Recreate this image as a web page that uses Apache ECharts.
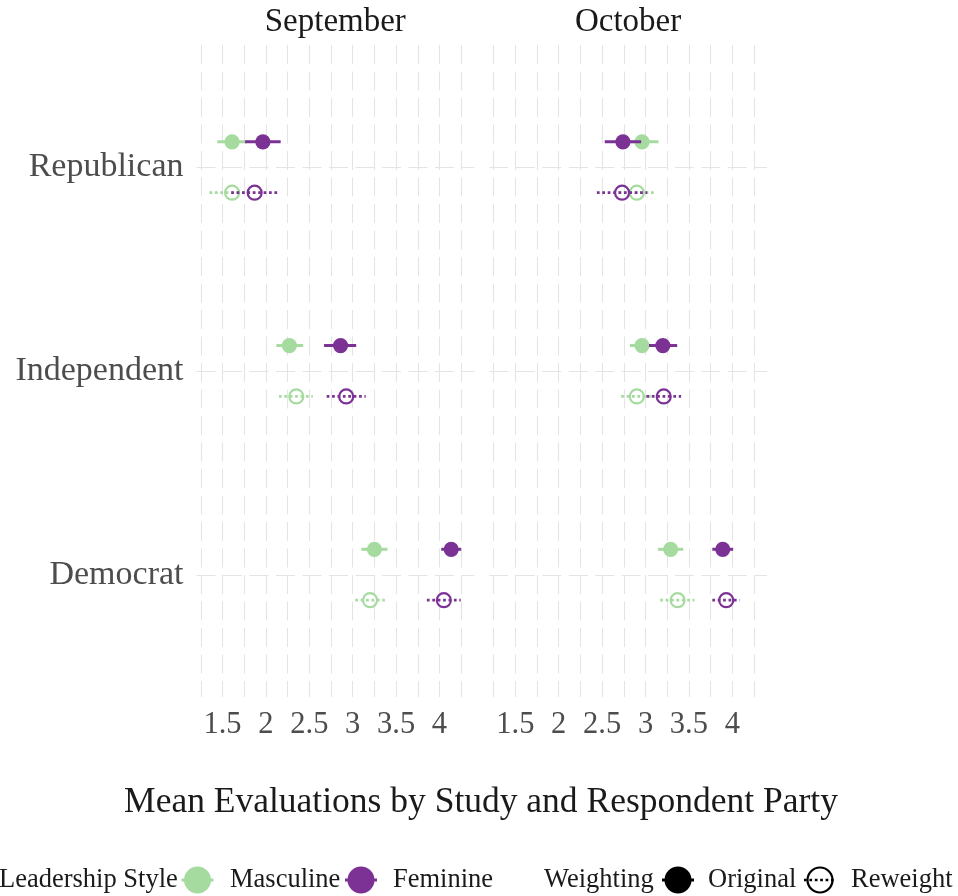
<!DOCTYPE html>
<html>
<head>
<meta charset="utf-8">
<script src="https://cdn.jsdelivr.net/npm/echarts@6/dist/echarts.min.js"></script>
<style>
  html, body { margin: 0; padding: 0; background: #ffffff; }
  #chart { width: 958px; height: 896px; }
</style>
</head>
<body>
<div id="chart"></div>
<script>
// Parties, bottom to top on the y axis
const parties = ["Democrat", "Independent", "Republican"];
const panels = ["September", "October"];
const xTickLabels = [1.5, 2, 2.5, 3, 3.5, 4];
const xGridValues = [1.25, 1.5, 1.75, 2, 2.25, 2.5, 2.75, 3, 3.25, 3.5, 3.75, 4, 4.25];

// Means and interval bounds, ordered as `parties`
const sepMascOrigMean = [3.25, 2.27, 1.61];
const sepMascOrigLow  = [3.10, 2.12, 1.44];
const sepMascOrigHigh = [3.40, 2.43, 1.78];
const sepFemOrigMean  = [4.135, 2.86, 1.965];
const sepFemOrigLow   = [4.02, 2.67, 1.76];
const sepFemOrigHigh  = [4.25, 3.04, 2.17];
const sepMascRewMean  = [3.20, 2.35, 1.61];
const sepMascRewLow   = [3.03, 2.15, 1.35];
const sepMascRewHigh  = [3.37, 2.54, 1.87];
const sepFemRewMean   = [4.05, 2.925, 1.87];
const sepFemRewLow    = [3.855, 2.70, 1.60];
const sepFemRewHigh   = [4.245, 3.15, 2.13];

const octMascOrigMean = [3.29, 2.96, 2.96];
const octMascOrigLow  = [3.145, 2.82, 2.77];
const octMascOrigHigh = [3.435, 3.10, 3.15];
const octFemOrigMean  = [3.89, 3.20, 2.74];
const octFemOrigLow   = [3.77, 3.04, 2.53];
const octFemOrigHigh  = [4.01, 3.365, 2.95];
const octMascRewMean  = [3.37, 2.90, 2.90];
const octMascRewLow   = [3.17, 2.72, 2.69];
const octMascRewHigh  = [3.565, 3.09, 3.115];
const octFemRewMean   = [3.93, 3.21, 2.73];
const octFemRewLow    = [3.77, 3.01, 2.44];
const octFemRewHigh   = [4.085, 3.41, 3.02];

const GREEN = "#A6DBA0";
const PURPLE = "#7B3294";
const FONT = "Liberation Serif";
const DODGE = 0.125;

function rows(mean, low, high, shift) {
  return parties.map((p, i) => [mean[i], low[i], high[i], i + 1 + shift]);
}

function makeSeries(panelIndex, data, color, reweighted) {
  return {
    type: "custom",
    xAxisIndex: panelIndex,
    yAxisIndex: panelIndex,
    silent: true,
    encode: { x: [0, 1, 2], y: 3 },
    data: data,
    renderItem: function (params, api) {
      const y = api.value(3);
      const pm = api.coord([api.value(0), y]);
      const pl = api.coord([api.value(1), y]);
      const ph = api.coord([api.value(2), y]);
      return {
        type: "group",
        children: [
          {
            type: "line",
            shape: { x1: pl[0], y1: pl[1], x2: ph[0], y2: ph[1] },
            style: reweighted
              ? { stroke: color, lineWidth: 2.7, lineDash: [2.7, 2.7] }
              : { stroke: color, lineWidth: 3 }
          },
          {
            type: "circle",
            shape: { cx: pm[0], cy: pm[1], r: reweighted ? 7 : 7.6 },
            style: reweighted
              ? { fill: "none", stroke: color, lineWidth: 2.2 }
              : { fill: color, stroke: null }
          }
        ]
      };
    }
  };
}

const gridLine = { show: true, lineStyle: { color: "#E4E4E4", width: 1.1, type: [19, 7.5] } };

const grids = [
  { left: 196.5, top: 45, width: 277.7, height: 652 },
  { left: 489.3, top: 45, width: 277.7, height: 652 }
];

const xAxes = grids.map((g, i) => ({
  type: "value",
  gridIndex: i,
  min: 1.2,
  max: 4.4,
  axisLine: { show: false },
  axisTick: { show: false, customValues: xGridValues },
  splitLine: gridLine,
  axisLabel: {
    customValues: xTickLabels,
    formatter: v => String(v),
    fontFamily: FONT,
    fontSize: 30.5,
    color: "#4D4D4D",
    margin: 12
  }
}));

const yAxes = grids.map((g, i) => ({
  type: "value",
  gridIndex: i,
  min: 0.4,
  max: 3.6,
  axisLine: { show: false },
  axisTick: { show: false, customValues: [1, 2, 3] },
  splitLine: gridLine,
  axisLabel: {
    show: i === 0,
    customValues: [1, 2, 3],
    formatter: v => parties[Math.round(v) - 1] || "",
    fontFamily: FONT,
    fontSize: 34,
    color: "#4D4D4D",
    margin: 13,
    padding: [7, 0, 0, 0]
  }
}));

const series = [
  makeSeries(0, rows(sepMascOrigMean, sepMascOrigLow, sepMascOrigHigh, DODGE), GREEN, false),
  makeSeries(0, rows(sepMascRewMean, sepMascRewLow, sepMascRewHigh, -DODGE), GREEN, true),
  makeSeries(0, rows(sepFemOrigMean, sepFemOrigLow, sepFemOrigHigh, DODGE), PURPLE, false),
  makeSeries(0, rows(sepFemRewMean, sepFemRewLow, sepFemRewHigh, -DODGE), PURPLE, true),
  makeSeries(1, rows(octMascOrigMean, octMascOrigLow, octMascOrigHigh, DODGE), GREEN, false),
  makeSeries(1, rows(octMascRewMean, octMascRewLow, octMascRewHigh, -DODGE), GREEN, true),
  makeSeries(1, rows(octFemOrigMean, octFemOrigLow, octFemOrigHigh, DODGE), PURPLE, false),
  makeSeries(1, rows(octFemRewMean, octFemRewLow, octFemRewHigh, -DODGE), PURPLE, true)
];

// Legend keys: a point with a short range line through it
function legendKey(cx, cy, color, hollow) {
  return {
    type: "group",
    children: [
      {
        type: "line",
        shape: { x1: cx - 16, y1: cy, x2: cx + 16, y2: cy },
        style: hollow
          ? { stroke: color, lineWidth: 2.7, lineDash: [2.7, 2.7] }
          : { stroke: color, lineWidth: 3 }
      },
      {
        type: "circle",
        shape: { cx: cx, cy: cy, r: hollow ? 12.5 : 13.5 },
        style: hollow
          ? { fill: "none", stroke: color, lineWidth: 2.2 }
          : { fill: color }
      }
    ]
  };
}

function label(x, y, text, size, align) {
  return {
    type: "text",
    x: x, y: y,
    style: {
      text: text,
      fontFamily: FONT,
      fontSize: size,
      fill: "#1A1A1A",
      align: align || "left",
      verticalAlign: "middle"
    }
  };
}

const LEG_Y = 880;
const graphic = [
  label(335.3, 22, panels[0], 33, "center"),
  label(628.1, 22, panels[1], 33, "center"),
  label(481, 803, "Mean Evaluations by Study and Respondent Party", 35.5, "center"),
  label(-1, LEG_Y, "Leadership Style", 26.5),
  legendKey(197.5, LEG_Y, GREEN, false),
  label(230, LEG_Y, "Masculine", 26.5),
  legendKey(361, LEG_Y, PURPLE, false),
  label(393, LEG_Y, "Feminine", 26.5),
  label(544, LEG_Y, "Weighting", 26.5),
  legendKey(678, LEG_Y, "#000000", false),
  label(708, LEG_Y, "Original", 26.5),
  legendKey(820, LEG_Y, "#000000", true),
  label(851, LEG_Y, "Reweight", 26.5)
];

const chart = echarts.init(document.getElementById("chart"), null, { renderer: "canvas" });
chart.setOption({
  animation: false,
  backgroundColor: "#ffffff",
  grid: grids,
  xAxis: xAxes,
  yAxis: yAxes,
  series: series,
  graphic: graphic
});
</script>
</body>
</html>
